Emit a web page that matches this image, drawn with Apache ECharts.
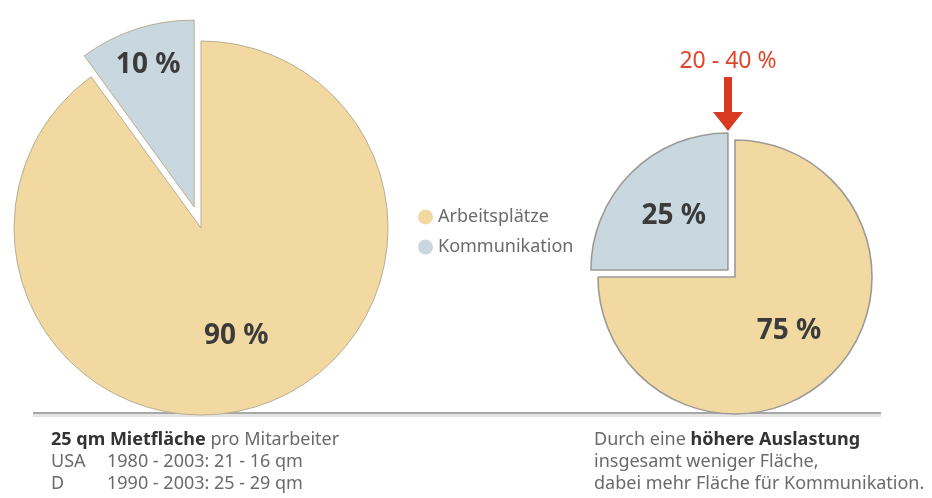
<!DOCTYPE html>
<html>
<head>
<meta charset="utf-8">
<script src="https://cdn.jsdelivr.net/npm/echarts@6/dist/echarts.min.js"></script>
<style>
  html, body { margin: 0; padding: 0; background: #ffffff; }
  #chart { width: 932px; height: 498px; }
</style>
</head>
<body>
<div id="chart"></div>
<script>
// Share of office floor space: workplaces vs. communication areas
const categories = ['Arbeitsplätze', 'Kommunikation'];
const shareBefore = [90, 10];   // conventional office
const shareAfter = [75, 25];    // higher utilisation
const increaseNote = '20 - 40 %';

const FONT = '"Noto Sans", "Open Sans", sans-serif';
const YELLOW = '#f2d9a2';
const BLUE = '#c9d7df';

function pieData(values, show) {
  return categories.map((name, i) => ({
    name: name,
    value: values[i],
    selected: name === 'Kommunikation',
    label: { show: show ? show[i] : false }
  }));
}

// Transparent overlay series used only to place the percentage labels
function labelSeries(center, radius, values, offset, show) {
  return {
    type: 'pie',
    center: center,
    radius: radius,
    startAngle: 90,
    selectedMode: 'single',
    selectedOffset: offset,
    silent: true,
    z: 5,
    itemStyle: { color: 'rgba(0,0,0,0)', borderWidth: 0 },
    label: {
      position: 'inside',
      formatter: '{c} %',
      fontFamily: FONT,
      fontSize: 28,
      fontWeight: 'bold',
      color: '#3b3b3b'
    },
    labelLine: { show: false },
    emphasis: { disabled: true },
    select: { disabled: false, itemStyle: { color: 'rgba(0,0,0,0)', borderWidth: 0 } },
    data: pieData(values, show)
  };
}

function mainSeries(center, radius, values, offset, border, borderWidth) {
  return {
    type: 'pie',
    center: center,
    radius: radius,
    startAngle: 90,
    selectedMode: 'single',
    selectedOffset: offset,
    color: [YELLOW, BLUE],
    itemStyle: { borderColor: border, borderWidth: borderWidth },
    label: { show: false },
    labelLine: { show: false },
    emphasis: { disabled: true },
    select: { itemStyle: { color: BLUE, borderColor: border, borderWidth: borderWidth } },
    data: pieData(values)
  };
}

const chart = echarts.init(document.getElementById('chart'), null, { renderer: 'canvas' });

const gray = '#6a6a6a';
const dark = '#333333';
const captionSize = 18;

function caption(x, y, text) {
  return {
    type: 'text', x: x, y: y,
    style: {
      text: text, fontFamily: FONT, fontSize: captionSize, fill: gray, verticalAlign: 'middle',
      rich: { b: { fontFamily: FONT, fontSize: captionSize, fontWeight: 'bold', fill: dark } }
    }
  };
}

chart.setOption({
  backgroundColor: '#ffffff',
  animation: false,
  color: [YELLOW, BLUE],
  legend: {
    orient: 'vertical',
    left: 413,
    top: 203,
    icon: 'circle',
    itemWidth: 15,
    itemHeight: 15,
    itemGap: 12,
    selectedMode: false,
    itemStyle: { borderWidth: 0 },
    textStyle: { fontFamily: FONT, fontSize: 18, color: '#6a6a6a' },
    data: categories
  },
  series: [
    mainSeries([201, 228], 187, shareBefore, 22, '#b9ae95', 1),
    labelSeries([201, 228], [35, 187], shareBefore, 22, [true, false]),
    labelSeries([201, 228], [105, 187], shareBefore, 22, [false, true]),
    mainSeries([735, 277], 137, shareAfter, 10, '#9c9a96', 1.6),
    labelSeries([735, 277], [10, 137], shareAfter, 10, [true, true])
  ],
  graphic: [
    // separator line with soft shadow
    { type: 'rect', shape: { x: 33, y: 414, width: 848, height: 3 }, style: { fill: '#e4e4e4' }, silent: true },
    { type: 'line', shape: { x1: 33, y1: 413, x2: 881, y2: 413 }, style: { stroke: '#a8a8a8', lineWidth: 2 }, silent: true },

    // increase annotation above the right pie
    { type: 'text', x: 728, y: 61, style: { text: increaseNote, fontFamily: FONT, fontSize: 23, fill: '#e0452c', align: 'center', verticalAlign: 'middle' } },
    { type: 'polygon', shape: { points: [[724, 77], [732, 77], [732, 112], [743, 112], [728, 131], [713, 112], [724, 112]] }, style: { fill: '#d83a22' } },

    // left caption
    caption(51, 440, '{b|25 qm Mietfläche} pro Mitarbeiter'),
    caption(51, 462, 'USA'),
    caption(107, 462, '1980 - 2003: 21 - 16 qm'),
    caption(51, 484, 'D'),
    caption(107, 484, '1990 - 2003: 25 - 29 qm'),

    // right caption
    caption(594, 440, 'Durch eine {b|höhere Auslastung}'),
    caption(594, 462, 'insgesamt weniger Fläche,'),
    caption(594, 484, 'dabei mehr Fläche für Kommunikation.')
  ]
});
</script>
</body>
</html>
